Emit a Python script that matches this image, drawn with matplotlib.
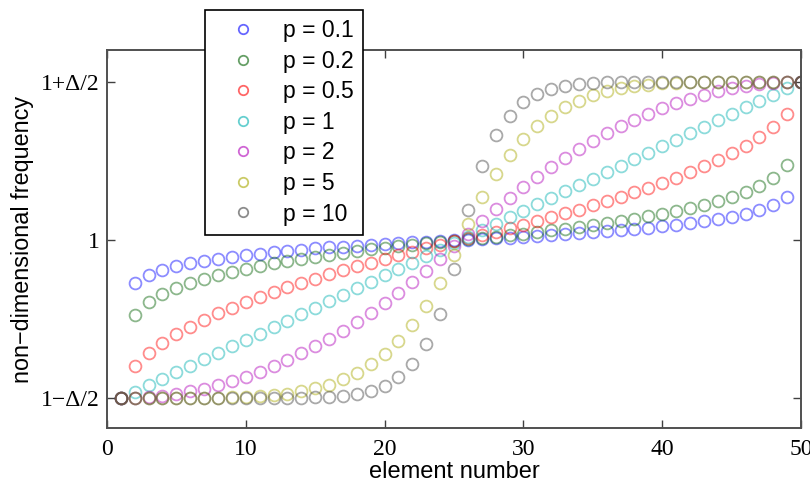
import matplotlib
matplotlib.use("Agg")
import matplotlib.pyplot as plt

# element numbers and non-dimensional frequency (in units of Delta/2 around 1)
elements = list(range(1, 51))

f_p01 = [-1, -0.274, -0.222, -0.190, -0.166, -0.147, -0.131, -0.118, -0.106, -0.095,
         -0.086, -0.077, -0.069, -0.061, -0.054, -0.048, -0.042, -0.036, -0.030, -0.025,
         -0.020, -0.015, -0.011, -0.006, -0.002,
         0.002, 0.006, 0.011, 0.015, 0.020, 0.025, 0.030, 0.036, 0.042, 0.048,
         0.054, 0.061, 0.069, 0.077, 0.086, 0.095, 0.106, 0.118, 0.131, 0.147,
         0.166, 0.190, 0.222, 0.274, 1]
f_p02 = [-1, -0.473, -0.394, -0.343, -0.304, -0.272, -0.245, -0.222, -0.201, -0.182,
         -0.164, -0.148, -0.133, -0.119, -0.106, -0.093, -0.082, -0.070, -0.060, -0.050,
         -0.040, -0.030, -0.021, -0.013, -0.004,
         0.004, 0.013, 0.021, 0.030, 0.040, 0.050, 0.060, 0.070, 0.082, 0.093,
         0.106, 0.119, 0.133, 0.148, 0.164, 0.182, 0.201, 0.222, 0.245, 0.272,
         0.304, 0.343, 0.394, 0.473, 1]
f_p05 = [-1, -0.798, -0.714, -0.650, -0.596, -0.548, -0.505, -0.465, -0.429, -0.394,
         -0.361, -0.330, -0.300, -0.272, -0.244, -0.218, -0.192, -0.167, -0.143, -0.119,
         -0.096, -0.074, -0.052, -0.031, -0.010,
         0.010, 0.031, 0.052, 0.074, 0.096, 0.119, 0.143, 0.167, 0.192, 0.218,
         0.244, 0.272, 0.300, 0.330, 0.361, 0.394, 0.429, 0.465, 0.505, 0.548,
         0.596, 0.650, 0.714, 0.798, 1]
f_p1 = [-1, -0.959, -0.918, -0.878, -0.837, -0.796, -0.755, -0.714, -0.673, -0.633,
        -0.592, -0.551, -0.510, -0.469, -0.429, -0.388, -0.347, -0.306, -0.265, -0.224,
        -0.184, -0.143, -0.102, -0.061, -0.020,
        0.020, 0.061, 0.102, 0.143, 0.184, 0.224, 0.265, 0.306, 0.347, 0.388,
        0.429, 0.469, 0.510, 0.551, 0.592, 0.633, 0.673, 0.714, 0.755, 0.796,
        0.837, 0.878, 0.918, 0.959, 1]
f_p2 = [-1, -0.998, -0.993, -0.985, -0.973, -0.958, -0.940, -0.918, -0.893, -0.865,
        -0.833, -0.798, -0.760, -0.718, -0.673, -0.625, -0.573, -0.518, -0.460, -0.399,
        -0.334, -0.265, -0.194, -0.119, -0.040,
        0.040, 0.119, 0.194, 0.265, 0.334, 0.399, 0.460, 0.518, 0.573, 0.625,
        0.673, 0.718, 0.760, 0.798, 0.833, 0.865, 0.893, 0.918, 0.940, 0.958,
        0.973, 0.985, 0.993, 0.998, 1]
f_p5 = [-1, -1, -1, -1, -1, -1, -0.999, -0.998, -0.996, -0.993,
        -0.989, -0.982, -0.972, -0.958, -0.939, -0.914, -0.881, -0.839, -0.786, -0.719,
        -0.638, -0.537, -0.417, -0.270, -0.098,
        0.098, 0.270, 0.417, 0.537, 0.638, 0.719, 0.786, 0.839, 0.881, 0.914,
        0.939, 0.958, 0.972, 0.982, 0.989, 0.993, 0.996, 0.998, 0.999, 1,
        1, 1, 1, 1, 1]
f_p10 = [-1, -1, -1, -1, -1, -1, -1, -1, -1, -1,
         -1, -1, -0.999, -0.998, -0.996, -0.993, -0.986, -0.974, -0.954, -0.921,
         -0.869, -0.786, -0.660, -0.467, -0.186,
         0.186, 0.467, 0.660, 0.786, 0.869, 0.921, 0.954, 0.974, 0.986, 0.993,
         0.996, 0.998, 0.999, 1, 1, 1, 1, 1, 1, 1,
         1, 1, 1, 1, 1]

series = [f_p01, f_p02, f_p05, f_p1, f_p2, f_p5, f_p10]
labels = ["p = 0.1", "p = 0.2", "p = 0.5", "p = 1", "p = 2", "p = 5", "p = 10"]
colors = ["#0000ff", "#006000", "#ff0000", "#00b0b0", "#b000b8", "#a8a800", "#404040"]

ytick_vals = [-1, 0, 1]
ytick_labels = ["1\u2212\u0394/2", "1", "1+\u0394/2"]

fig = plt.figure(figsize=(8.1, 4.86), dpi=100)
ax = fig.add_axes([0.132, 0.119, 0.857, 0.778])

for vals, lab, col in zip(series, labels, colors):
    ax.plot(elements, vals, linestyle="none", marker="o", markersize=8.5,
            markerfacecolor="none", markeredgecolor=col, markeredgewidth=1.3,
            alpha=0.45, label=lab)

ax.set_xlim(0, 50)
ax.set_ylim(-1.19, 1.2)
ax.set_xticks([0, 10, 20, 30, 40, 50])
ax.set_yticks(ytick_vals)
ax.set_yticklabels(ytick_labels)
for t in ax.get_xticklabels() + ax.get_yticklabels():
    t.set_fontfamily("Liberation Serif")
    t.set_fontsize(17)
ax.tick_params(axis="x", direction="in", length=6, width=1, top=True,
               color="#404040", pad=8)
ax.tick_params(axis="y", direction="in", length=6, width=1, right=True,
               color="#404040", pad=5)
for sp in ax.spines.values():
    sp.set_color("#505050")
    sp.set_linewidth(1.4)

ax.set_xlabel("element number", fontfamily="Liberation Sans", fontsize=17)
ax.xaxis.set_label_coords(0.5, -0.088)
ax.set_ylabel("non\u2212dimensional frequency", fontfamily="Liberation Sans",
              fontsize=16.8)
ax.yaxis.set_label_coords(-0.105, 0.5)

leg = ax.legend(loc="upper left", bbox_to_anchor=(0.141, 1.106), borderaxespad=0,
                prop={"family": "Liberation Sans", "size": 16.5},
                handlelength=2.5, handletextpad=0.5, labelspacing=0.33,
                borderpad=0.4, fancybox=False, framealpha=1, markerscale=0.8)
leg.get_frame().set_edgecolor("black")
leg.get_frame().set_linewidth(1.2)
for h in leg.legend_handles:
    h.set_alpha(0.6)

fig.savefig("out.png", dpi=100)
